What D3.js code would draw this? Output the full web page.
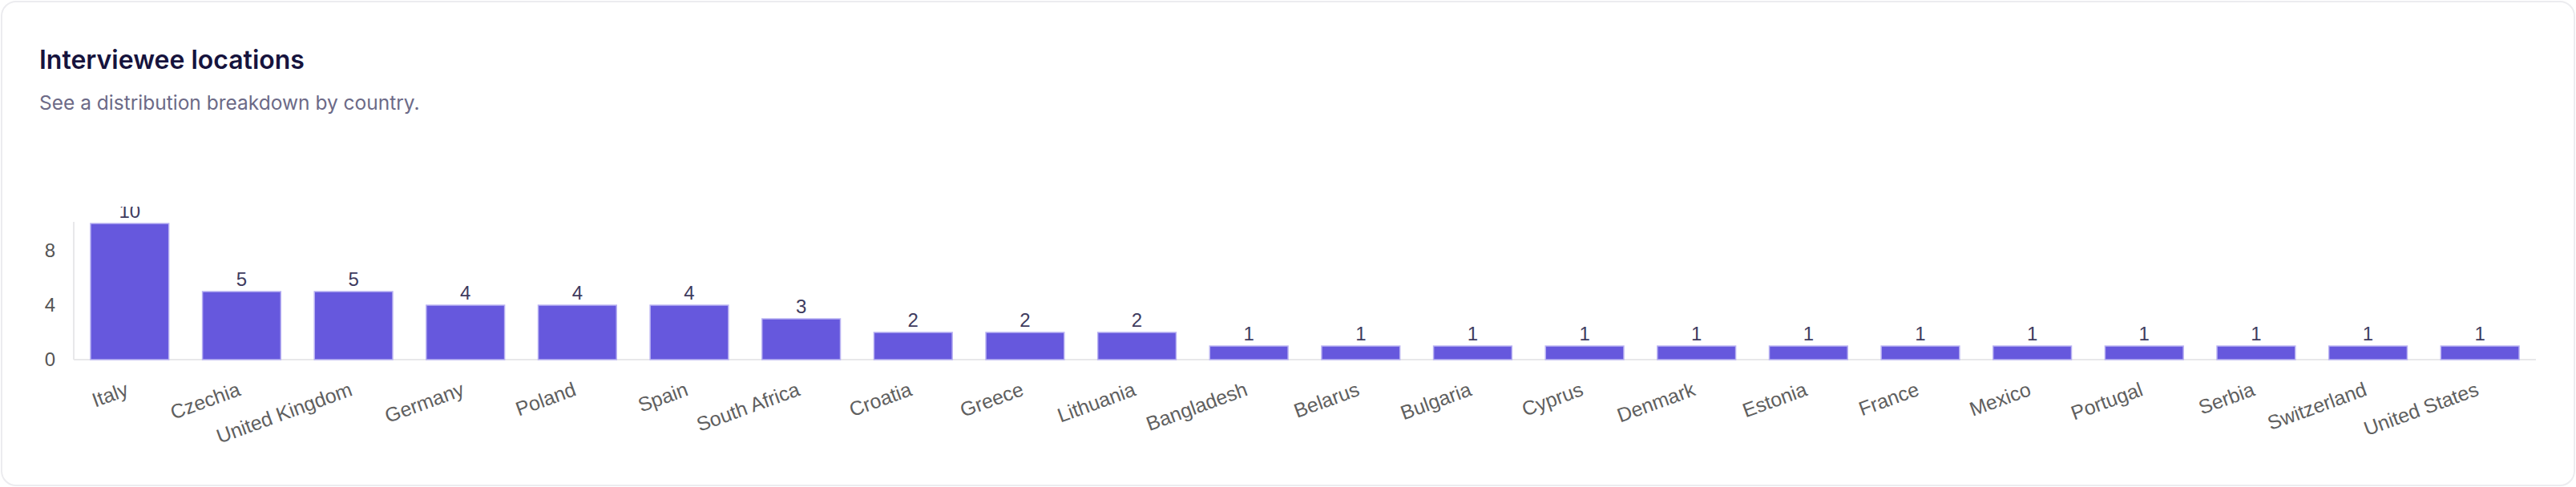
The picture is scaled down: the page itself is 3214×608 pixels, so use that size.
<!DOCTYPE html>
<html>
<head>
<meta charset="utf-8">
<script src="https://cdn.jsdelivr.net/npm/d3@7"></script>
<style>
	body { margin: 0; background: #ffffff; }
	svg { display: block; }
</style>
</head>
<body>
<div id="chart"></div>
<script>

// countries and number of interviewees per country
var countries = ["Italy", "Czechia", "United Kingdom", "Germany", "Poland", "Spain", "South Africa",
	"Croatia", "Greece", "Lithuania", "Bangladesh", "Belarus", "Bulgaria", "Cyprus", "Denmark",
	"Estonia", "France", "Mexico", "Portugal", "Serbia", "Switzerland", "United States"];
var counts = [10, 5, 5, 4, 4, 4, 3, 2, 2, 2, 1, 1, 1, 1, 1, 1, 1, 1, 1, 1, 1, 1];
var yTicks = [0, 4, 8];

var width = 3214;
var height = 608;

var svg = d3.select("#chart")
	.append("svg")
	.attr("width", width)
	.attr("height", height);

// card
svg.append("rect")
	.attr("x", 2)
	.attr("y", 2)
	.attr("width", width - 4)
	.attr("height", height - 4)
	.attr("rx", 18)
	.style("fill", "#ffffff")
	.style("stroke", "#ececef")
	.style("stroke-width", 2);

// title and subtitle
svg.append("text")
	.attr("x", 49)
	.attr("y", 86)
	.style("font-family", "Inter, 'Noto Sans', sans-serif")
	.style("font-weight", 600)
	.style("font-size", "32px")
	.style("fill", "#16133d")
	.text("Interviewee locations");

svg.append("text")
	.attr("x", 49)
	.attr("y", 137)
	.style("font-family", "Inter, 'Noto Sans', sans-serif")
	.style("font-size", "24.5px")
	.style("fill", "#6c6a87")
	.text("See a distribution breakdown by country.");

// scales
var x = d3.scaleBand()
	.domain(countries)
	.range([92, 3164])
	.paddingInner(0.3)
	.paddingOuter(0.15);

var y = d3.scaleLinear()
	.domain([0, 10])
	.range([449, 279]);

var labelFont = "'Liberation Sans', Arial, Helvetica, sans-serif";

// y axis line and baseline
svg.append("line")
	.attr("x1", 92).attr("x2", 92)
	.attr("y1", y(10) - 2).attr("y2", y(0))
	.style("stroke", "#e8e8ea")
	.style("stroke-width", 2);

svg.append("line")
	.attr("x1", 92).attr("x2", 3164)
	.attr("y1", y(0)).attr("y2", y(0))
	.style("stroke", "#e8e8ea")
	.style("stroke-width", 2);

// y ticks
var yAxis = svg.append("g")
	.attr("transform", "translate(92,0)")
	.call(d3.axisLeft(y).tickValues(yTicks).tickSize(0).tickPadding(23));
yAxis.select(".domain").remove();
yAxis.selectAll("text")
	.style("font-family", labelFont)
	.style("font-size", "24px")
	.style("fill", "#555555");

// bars
svg.selectAll(".bar")
	.data(counts)
	.enter()
	.append("rect")
	.attr("class", "bar")
	.attr("x", function(d, i) { return x(countries[i]); })
	.attr("y", function(d) { return y(d); })
	.attr("width", x.bandwidth())
	.attr("height", function(d) { return y(0) - y(d); })
	.style("fill", "#6658dd")
	.style("stroke", "#b9b2f2")
	.style("stroke-width", 1.5);

// value labels, clipped at the top like the original
svg.append("clipPath")
	.attr("id", "labelClip")
	.append("rect")
	.attr("x", 0).attr("y", 258)
	.attr("width", width).attr("height", 300);

svg.append("g")
	.attr("clip-path", "url(#labelClip)")
	.selectAll("text")
	.data(counts)
	.enter()
	.append("text")
	.attr("x", function(d, i) { return x(countries[i]) + x.bandwidth() / 2; })
	.attr("y", function(d) { return y(d) - 7; })
	.attr("text-anchor", "middle")
	.style("font-family", labelFont)
	.style("font-size", "24px")
	.style("fill", "#3e3b5e")
	.text(function(d) { return d; });

// rotated category labels
svg.append("g")
	.selectAll("text")
	.data(countries)
	.enter()
	.append("text")
	.attr("transform", function(d) {
		return "translate(" + (x(d) + x.bandwidth() / 2) + "," + (y(0) + 44) + ") rotate(-20)";
	})
	.attr("text-anchor", "end")
	.style("font-family", labelFont)
	.style("font-size", "25px")
	.style("fill", "#5f5f5f")
	.text(function(d) { return d; });

</script>
</body>
</html>
